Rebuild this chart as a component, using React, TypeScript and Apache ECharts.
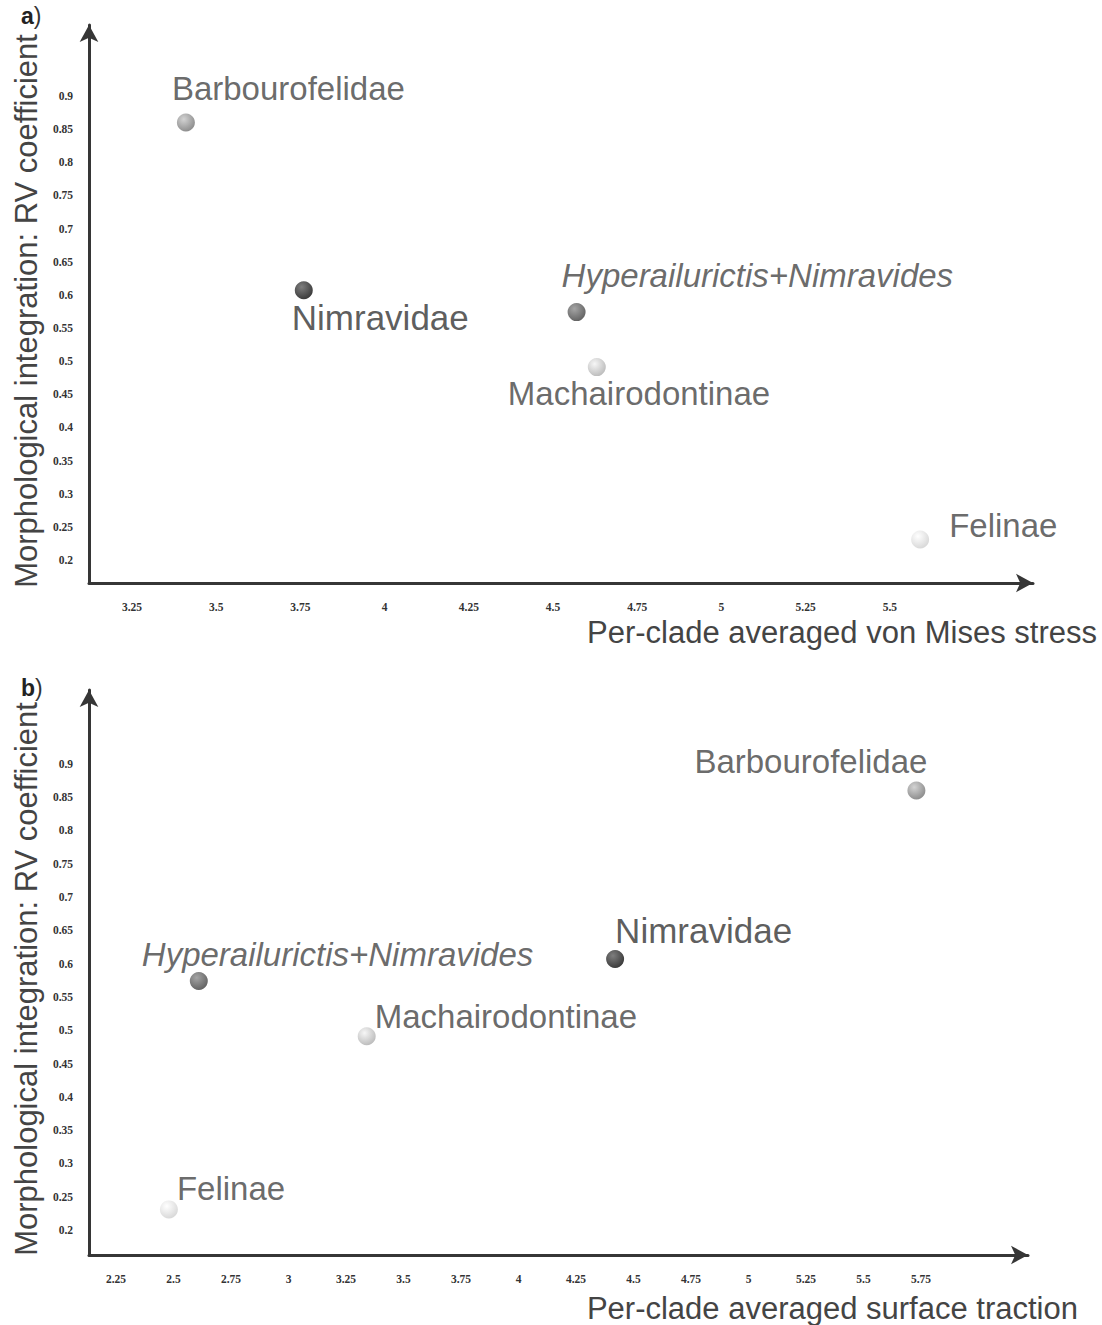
import React, { useEffect, useRef } from "react";
import * as echarts from "echarts";

// Clades and their per-clade values
const clades = [
  "Barbourofelidae",
  "Nimravidae",
  "Hyperailurictis+Nimravides",
  "Machairodontinae",
  "Felinae",
];
const rvCoefficient = [0.86, 0.607, 0.574, 0.491, 0.231];
const vonMisesStress = [3.41, 3.76, 4.57, 4.63, 5.59];
const surfaceTraction = [5.73, 4.42, 2.61, 3.34, 2.48];

// Tick labels
const yTicks = [0.2, 0.25, 0.3, 0.35, 0.4, 0.45, 0.5, 0.55, 0.6, 0.65, 0.7, 0.75, 0.8, 0.85, 0.9];
const xTicksStress = [3.25, 3.5, 3.75, 4, 4.25, 4.5, 4.75, 5, 5.25, 5.5];
const xTicksTraction = [2.25, 2.5, 2.75, 3, 3.25, 3.5, 3.75, 4, 4.25, 4.5, 4.75, 5, 5.25, 5.5, 5.75];

// Sphere shading per clade: [highlight, shadow]
const sphereShades: [string, string][] = [
  ["#c8c8c8", "#6a6a6a"],
  ["#5e5e5e", "#030303"],
  ["#8e8e8e", "#363636"],
  ["#f4f4f4", "#a6a6a6"],
  ["#ffffff", "#cbcbcb"],
];

// Label placement (offset from point centre) for each panel
const labelOffsetsStress = [
  [-14, -34],
  [-12, 27],
  [-15, -37],
  [-89, 26],
  [29, -14],
];
const labelOffsetsTraction = [
  [-222, -29],
  [0, -28],
  [-57, -26],
  [8, -20],
  [8, -21],
];

const SANS = '"Liberation Sans", Arial, Helvetica, sans-serif';
const SERIF = '"Liberation Serif", "DejaVu Serif", "Times New Roman", serif';
const AXIS_COLOR = "#363636";

function sphere(i: number) {
  const [hi, lo] = sphereShades[i];
  return {
    type: "radial",
    x: 0.38,
    y: 0.32,
    r: 0.75,
    colorStops: [
      { offset: 0, color: hi },
      { offset: 1, color: lo },
    ],
  };
}

function points(xs: number[], offsets: number[][]) {
  return clades.map((name, i) => ({
    name,
    value: [xs[i], rvCoefficient[i]],
    itemStyle: { color: sphere(i) },
    label: {
      show: true,
      position: "inside",
      align: "left",
      verticalAlign: "middle",
      offset: offsets[i],
      formatter: name,
      fontFamily: SANS,
      fontSize: name === "Nimravidae" ? 35 : 33,
      fontStyle: name === "Hyperailurictis+Nimravides" ? "italic" : "normal",
      color: name === "Nimravidae" ? "#333333" : "#444444",
    },
  }));
}

function xAxis(gridIndex: number, min: number, max: number, ticks: number[]) {
  return {
    type: "value",
    gridIndex,
    min,
    max,
    axisLine: {
      show: true,
      onZero: false,
      symbol: ["none", "arrow"],
      symbolSize: [14, 17],
      lineStyle: { color: AXIS_COLOR, width: 3 },
    },
    axisTick: { show: false },
    splitLine: { show: false },
    axisLabel: {
      customValues: ticks,
      margin: 18,
      fontFamily: SERIF,
      fontWeight: "bold",
      fontSize: 11.5,
      color: "#333",
      formatter: (v: number) => String(v),
    },
  };
}

function yAxis(gridIndex: number, min: number, max: number) {
  return {
    type: "value",
    gridIndex,
    min,
    max,
    axisLine: {
      show: true,
      onZero: false,
      symbol: ["none", "arrow"],
      symbolSize: [14, 17],
      lineStyle: { color: AXIS_COLOR, width: 3 },
    },
    axisTick: { show: false },
    splitLine: { show: false },
    axisLabel: {
      customValues: yTicks,
      margin: 16,
      fontFamily: SERIF,
      fontWeight: "bold",
      fontSize: 11.5,
      color: "#333",
      formatter: (v: number) => String(v),
    },
  };
}

function titleText(text: string, x: number, y: number, align: string, rotation = 0) {
  return {
    type: "text",
    x,
    y,
    rotation,
    style: {
      text,
      font: `31px ${SANS}`,
      fill: "#444444",
      align,
      textAlign: align,
      verticalAlign: "middle",
      textVerticalAlign: "middle",
    },
  };
}

function panelLetter(letter: string, x: number, y: number) {
  return {
    type: "text",
    x,
    y,
    style: {
      text: `{b|${letter}}{n|)}`,
      rich: {
        b: { fontFamily: SANS, fontSize: 23, fontWeight: "bold", fill: "#222", color: "#222" },
        n: { fontFamily: SANS, fontSize: 23, fill: "#333", color: "#333" },
      },
      align: "left",
      verticalAlign: "middle",
      textVerticalAlign: "middle",
    },
  };
}

export default function App() {
  const ref = useRef<HTMLDivElement>(null);

  useEffect(() => {
    document.body.style.margin = "0";
    if (!ref.current) return;
    const chart = echarts.init(ref.current, null, { renderer: "svg" });

    const option: any = {
      animation: false,
      backgroundColor: "#ffffff",
      grid: [
        { left: 89, top: 25, width: 944, height: 558, outerBoundsMode: "none" },
        { left: 89, top: 690, width: 939, height: 565, outerBoundsMode: "none" },
      ],
      xAxis: [
        xAxis(0, 3.1223, 5.9251, xTicksStress),
        xAxis(1, 2.1326, 6.2152, xTicksTraction),
      ],
      yAxis: [yAxis(0, 0.1653, 1.0071), yAxis(1, 0.1625, 1.0108)],
      series: [
        {
          type: "scatter",
          xAxisIndex: 0,
          yAxisIndex: 0,
          symbolSize: 18,
          data: points(vonMisesStress, labelOffsetsStress),
        },
        {
          type: "scatter",
          xAxisIndex: 1,
          yAxisIndex: 1,
          symbolSize: 18,
          data: points(surfaceTraction, labelOffsetsTraction),
        },
      ],
      graphic: [
        titleText("Morphological integration: RV coefficient", 26, 311, "center", Math.PI / 2),
        titleText("Per-clade averaged von Mises stress", 1097, 632, "right"),
        titleText("Morphological integration: RV coefficient", 26, 979, "center", Math.PI / 2),
        titleText("Per-clade averaged surface traction", 1078, 1308, "right"),
        panelLetter("a", 21, 16),
        panelLetter("b", 21, 688),
      ],
    };

    chart.setOption(option);
    return () => chart.dispose();
  }, []);

  return <div ref={ref} style={{ width: 1102, height: 1325 }} />;
}
